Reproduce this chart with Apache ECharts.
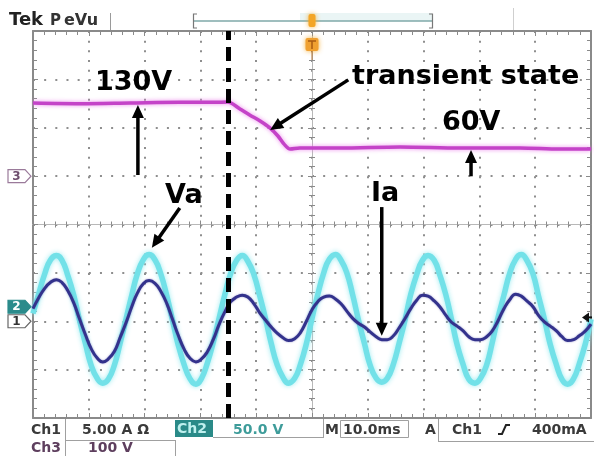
<!DOCTYPE html>
<html>
<head>
<meta charset="utf-8">
<script src="https://cdn.jsdelivr.net/npm/echarts@6/dist/echarts.min.js"></script>
<style>
  html, body { margin: 0; padding: 0; background: #fff; }
  #scope { width: 594px; height: 456px; }
</style>
</head>
<body>
<div id="scope"></div>
<script>
// ---- Acquisition: 10 ms/div, trigger at screen centre (0 ms) ----
const timeMin = -50;
const timeMax = 50;
const timeStep = 10;

// Ch3: DC-link voltage (V), steps from 130 V to 60 V
const ch3Time  = [-50.0, -41.6, -32.6, -23.7, -17.4, -15.1, -12.9, -11.1, -9.3, -7.5, -6.1, -5.0, -3.9, -2.2, 5.0, 15.8, 26.5, 37.3, 44.4, 50.0];
const ch3Volts = [130, 129, 130, 131, 131, 131.5, 120.7, 111, 102, 91, 78.7, 66, 58.4, 60, 60, 61.6, 60, 60, 58.4, 58.4];

// Sample instants shared by Ch1 and Ch2 (ms)
const sampleTime = [
  -50.0, -49.0, -47.9, -46.9, -45.8, -44.8, -43.8, -42.7, -41.7, -40.6, -39.6, -38.5, -37.5, -36.5, -35.4, -34.4,
  -33.3, -32.3, -31.3, -30.2, -29.2, -28.1, -27.1, -26.0, -25.0, -24.0, -22.9, -21.9, -20.8, -19.8, -18.8, -17.7,
  -16.7, -15.6, -14.6, -13.5, -12.5, -11.5, -10.4, -9.4, -8.3, -7.3, -6.3, -5.2, -4.2, -3.1, -2.1, -1.0,
  0.0, 1.0, 2.1, 3.1, 4.2, 5.2, 6.3, 7.3, 8.3, 9.4, 10.4, 11.5, 12.5, 13.5, 14.6, 15.6,
  16.7, 17.7, 18.8, 19.8, 20.8, 21.9, 22.9, 24.0, 25.0, 26.0, 27.1, 28.1, 29.2, 30.2, 31.3, 32.3,
  33.3, 34.4, 35.4, 36.5, 37.5, 38.5, 39.6, 40.6, 41.7, 42.7, 43.8, 44.8, 45.8, 46.9, 47.9, 49.0, 50.0
];

// Ch2: phase voltage Va (V)
const vaVolts = [
  -7, 13, 34, 48, 53, 48, 33, 12, -13, -38, -60, -74, -79, -75, -60, -38,
  -12, 12, 34, 49, 54, 48, 34, 11, -14, -39, -60, -74, -80, -74, -59, -37,
  -13, 13, 34, 48, 53, 47, 33, 12, -13, -38, -59, -73, -79, -74, -60, -38,
  -12, 12, 35, 49, 54, 48, 34, 12, -13, -38, -60, -74, -78, -74, -59, -38,
  -13, 13, 34, 48, 53, 48, 33, 12, -13, -39, -60, -75, -79, -74, -60, -37,
  -12, 12, 34, 49, 54, 48, 34, 11, -14, -39, -60, -75, -80, -74, -59, -38, -13
];

// Ch1: phase current Ia (A)
const iaAmps = [
  1.3, 2.4, 3.4, 4.0, 4.3, 4.0, 3.2, 1.9, 0.3, -1.4, -2.8, -3.8, -4.2, -3.9, -3.1, -1.7,
  -0.1, 1.5, 2.9, 3.9, 4.2, 3.9, 3.1, 1.8, 0.2, -1.4, -2.9, -3.8, -4.2, -3.9, -3.2, -1.9,
  -0.4, 1.0, 2.0, 2.5, 2.7, 2.5, 1.8, 0.9, 0.1, -0.6, -1.2, -1.7, -2.0, -1.8, -1.2, 0.0,
  1.2, 2.0, 2.5, 2.6, 2.3, 1.8, 1.0, 0.3, -0.2, -0.6, -1.1, -1.6, -1.9, -1.9, -1.5, -0.7,
  0.3, 1.3, 2.2, 2.7, 2.6, 2.1, 1.5, 0.6, -0.1, -0.5, -1.0, -1.6, -1.9, -1.9, -1.6, -1.0,
  0.0, 1.3, 2.2, 2.8, 2.6, 2.1, 1.5, 0.6, -0.1, -0.5, -1.0, -1.6, -2.0, -1.9, -1.5, -1.0, -0.3
];

// Instant at which the DC-link starts to change
const transientMs = -15;
// Trigger level on Ch1 (A)
const triggerLevelA = 0.4;

// Vertical ranges of each channel over the 8 screen divisions
const ch1Range = [-10, 30];     // 5 A/div
const ch2Range = [-115, 285];   // 50 V/div
const ch3Range = [-360, 242];

const zip = (xs, ys) => xs.map((x, i) => [x, ys[i]]);

const frameColor = '#8a8a8a';
const dotColor = '#8e8e8e';
const FONT = '"DejaVu Sans", "Liberation Sans", sans-serif';

function frameAxis(dim, position, withGrid) {
  const isX = dim === 'x';
  return {
    type: 'value',
    min: isX ? timeMin : -4,
    max: isX ? timeMax : 4,
    interval: isX ? timeStep : 1,
    position: position,
    axisLine: { show: true, onZero: false, lineStyle: { color: frameColor, width: 2 } },
    axisTick: { show: true, inside: true, length: 5, lineStyle: { color: frameColor, width: 1 } },
    minorTick: { show: true, splitNumber: 5, length: 4, lineStyle: { color: frameColor, width: 1 } },
    axisLabel: { show: false },
    splitLine: {
      show: withGrid,
      lineStyle: { color: dotColor, width: 2, type: isX ? [2, 7.675] : [2, 9.16] }
    }
  };
}

function centreAxis(dim, position) {
  const isX = dim === 'x';
  return {
    type: 'value',
    min: isX ? timeMin : -4,
    max: isX ? timeMax : 4,
    interval: isX ? timeStep : 1,
    position: position,
    axisLine: { show: true, onZero: true, onZeroAxisIndex: 0, lineStyle: { color: '#b8b8b8', width: 1 } },
    axisTick: { show: true, inside: true, length: 4, lineStyle: { color: '#8a8a8a', width: 1 } },
    minorTick: { show: true, splitNumber: 5, length: 3, lineStyle: { color: '#8a8a8a', width: 1 } },
    axisLabel: { show: false },
    splitLine: { show: false }
  };
}

function channelAxis(range) {
  return { type: 'value', min: range[0], max: range[1], show: false, axisLine: { onZero: false }, splitLine: { show: false } };
}

const chart = echarts.init(document.getElementById('scope'), null, { renderer: 'canvas' });

chart.setOption({
  animation: false,
  backgroundColor: '#ffffff',
  grid: { left: 33, top: 31, width: 558, height: 387, containLabel: false },
  xAxis: [
    frameAxis('x', 'bottom', true),
    frameAxis('x', 'top', false),
    centreAxis('x', 'bottom'),
    centreAxis('x', 'top')
  ],
  yAxis: [
    frameAxis('y', 'left', true),
    frameAxis('y', 'right', false),
    centreAxis('y', 'left'),
    centreAxis('y', 'right'),
    channelAxis(ch1Range),
    channelAxis(ch2Range),
    channelAxis(ch3Range)
  ],
  series: [
    {
      name: 'Ch3', type: 'line', xAxisIndex: 0, yAxisIndex: 6, z: 2,
      data: zip(ch3Time, ch3Volts), showSymbol: false, smooth: 0.3, silent: true,
      lineStyle: { color: '#c443c8', width: 3.5, shadowColor: 'rgba(235,130,235,0.9)', shadowBlur: 4 }
    },
    {
      name: 'Va', type: 'line', xAxisIndex: 0, yAxisIndex: 5, z: 3,
      data: zip(sampleTime, vaVolts), showSymbol: false, smooth: 0.5, silent: true,
      lineStyle: { color: '#72e1e8', width: 5.5, shadowColor: 'rgba(150,235,240,0.95)', shadowBlur: 5 }
    },
    {
      name: 'Ia', type: 'line', xAxisIndex: 0, yAxisIndex: 4, z: 4,
      data: zip(sampleTime, iaAmps), showSymbol: false, smooth: 0.5, silent: true,
      lineStyle: { color: '#33328c', width: 3, shadowColor: 'rgba(80,80,170,0.6)', shadowBlur: 2 },
      markLine: {
        silent: true, symbol: ['none', 'none'], z: 6,
        label: { show: false },
        lineStyle: { color: '#000000', width: 5, type: [14, 7] },
        data: [{ xAxis: transientMs }]
      }
    }
  ]
});

// ---- Overlay: channel markers, annotations, readouts ----
const toPx = (seriesIndex, pt) => chart.convertToPixel({ seriesIndex: seriesIndex }, pt);
const divToY = (d) => chart.convertToPixel({ yAxisIndex: 0 }, d);

function arrow(p0, p1, width, headLen, headHalf) {
  const dx = p1[0] - p0[0], dy = p1[1] - p0[1];
  const len = Math.hypot(dx, dy);
  const ux = dx / len, uy = dy / len;
  const bx = p1[0] - ux * headLen, by = p1[1] - uy * headLen;
  return [
    { type: 'line', z: 100, silent: true,
      shape: { x1: p0[0], y1: p0[1], x2: bx + ux * 2, y2: by + uy * 2 },
      style: { stroke: '#000', lineWidth: width } },
    { type: 'polygon', z: 100, silent: true,
      shape: { points: [p1, [bx - uy * headHalf, by + ux * headHalf], [bx + uy * headHalf, by - ux * headHalf]] },
      style: { fill: '#000' } }
  ];
}

function label(text, x, y, font, fill, align) {
  return { type: 'text', z: 100, silent: true,
    style: { text: text, x: x, y: y, font: font, fill: fill,
             align: align || 'left', verticalAlign: 'middle',
             textAlign: align || 'left', textVerticalAlign: 'middle' } };
}

function marker(y, txt, fill, stroke, textFill) {
  const x0 = 8, x1 = 25, h = 6.5;
  return [
    { type: 'polygon', z: 90, silent: true,
      shape: { points: [[x0, y - h], [x1, y - h], [x1 + 6, y], [x1, y + h], [x0, y + h]] },
      style: { fill: fill, stroke: stroke, lineWidth: 1.2 } },
    label(txt, 16.5, y + 0.5, 'bold 12px ' + FONT, textFill, 'center')
  ];
}

// Annotation arrows, anchored in each channel's own units
const arrowSpecs = [
  { s: 0, from: [-31.2, 18],   to: [-31.2, 127] },   // 130V
  { s: 0, from: [6.5, 166],    to: [-7.5, 88] },     // transient state
  { s: 0, from: [28.5, 16],    to: [28.5, 57] },     // 60V
  { s: 1, from: [-23.7, 102],  to: [-28.7, 61] },    // Va
  { s: 2, from: [12.5, 11.8],  to: [12.5, -1.5] }    // Ia
];

const g = [];
arrowSpecs.forEach(a => g.push(...arrow(toPx(a.s, a.from), toPx(a.s, a.to), 3.5, 13, 6)));

const big = 'bold 27px ' + FONT;
g.push(label('130V', 95, 83, big, '#000'));
g.push(label('transient state', 352, 77, big, '#000'));
g.push(label('60V', 442, 123, big, '#000'));
g.push(label('Va', 165, 196, big, '#000'));
g.push(label('Ia', 371, 194, big, '#000'));

// Channel ground markers and trigger-level pointer
g.push(...marker(divToY(1), '3', '#ffffff', '#9a7a9a', '#6e4e6e'));
g.push(...marker(toPx(1, [0, 0])[1], '2', '#2b8b8b', '#2b8b8b', '#ffffff'));
g.push(...marker(toPx(2, [0, 0])[1], '1', '#ffffff', '#666666', '#333333'));
const trig = toPx(2, [timeMax, triggerLevelA]);
g.push({ type: 'polygon', z: 90, silent: true,
  shape: { points: [[trig[0] - 9, trig[1]], [trig[0] - 2, trig[1] - 5], [trig[0] - 2, trig[1] + 5]] },
  style: { fill: '#111' } });
g.push({ type: 'line', z: 90, silent: true,
  shape: { x1: trig[0] - 4, y1: trig[1], x2: trig[0] + 1, y2: trig[1] },
  style: { stroke: '#111', lineWidth: 2 } });

// Header: brand, record bar, trigger position
const hdr = 'bold 18px ' + FONT;
g.push(label('Tek', 9, 20, hdr, '#222'));
g.push(label('P', 50, 21, 'bold 15px ' + FONT, '#333'));
g.push(label('eVu', 64, 21, 'bold 16px ' + FONT, '#333'));
g.push({ type: 'line', z: 90, silent: true, shape: { x1: 110.5, y1: 13, x2: 110.5, y2: 30 }, style: { stroke: '#9a9a9a', lineWidth: 1 } });
g.push({ type: 'rect', z: 89, silent: true, shape: { x: 300, y: 13, width: 132, height: 8 }, style: { fill: '#eaf5f5' } });
g.push({ type: 'line', z: 90, silent: true, shape: { x1: 194, y1: 21, x2: 432, y2: 21 }, style: { stroke: '#7fa9a9', lineWidth: 1.5 } });
g.push({ type: 'polyline', z: 90, silent: true, shape: { points: [[197, 14], [193.5, 14], [193.5, 28], [197, 28]] }, style: { stroke: '#777', lineWidth: 1.2, fill: null } });
g.push({ type: 'polyline', z: 90, silent: true, shape: { points: [[429, 14], [432.5, 14], [432.5, 28], [429, 28]] }, style: { stroke: '#777', lineWidth: 1.2, fill: null } });
g.push({ type: 'line', z: 90, silent: true, shape: { x1: 513.5, y1: 8, x2: 513.5, y2: 30 }, style: { stroke: '#cfcfcf', lineWidth: 1 } });
const trigX = chart.convertToPixel({ xAxisIndex: 0 }, 0);
g.push({ type: 'rect', z: 95, silent: true, shape: { x: trigX - 3.5, y: 14, width: 7, height: 13, r: 2 },
  style: { fill: '#f3a526', shadowColor: 'rgba(245,170,40,0.9)', shadowBlur: 5 } });
g.push({ type: 'rect', z: 95, silent: true, shape: { x: trigX - 6.5, y: 38, width: 13, height: 13, r: 2 },
  style: { fill: '#f0a030', shadowColor: 'rgba(245,170,40,0.9)', shadowBlur: 5 } });
g.push({ type: 'polyline', z: 96, silent: true, shape: { points: [[trigX - 4, 41], [trigX + 4, 41]] }, style: { stroke: '#a85a10', lineWidth: 1.5 } });
g.push({ type: 'line', z: 96, silent: true, shape: { x1: trigX, y1: 41, x2: trigX, y2: 49 }, style: { stroke: '#a85a10', lineWidth: 1.5 } });
g.push({ type: 'line', z: 95, silent: true, shape: { x1: trigX, y1: 51, x2: trigX, y2: 60 }, style: { stroke: '#b07030', lineWidth: 1 } });

// Readout bar
const ro = 'bold 14px ' + FONT;
const boxLine = (x1, y1, x2, y2) => ({ type: 'line', z: 90, silent: true, shape: { x1, y1, x2, y2 }, style: { stroke: '#a0a0a0', lineWidth: 1 } });
g.push(boxLine(65.5, 419, 65.5, 456));
g.push(boxLine(65, 440.5, 175, 440.5));
g.push(boxLine(175.5, 440, 175.5, 456));
g.push(boxLine(213, 437.5, 323, 437.5));
g.push(boxLine(323.5, 419, 323.5, 438));
g.push({ type: 'rect', z: 90, silent: true, shape: { x: 340.5, y: 420.5, width: 68, height: 17 }, style: { fill: null, stroke: '#a0a0a0', lineWidth: 1 } });
g.push(boxLine(438.5, 419, 438.5, 442));
g.push(boxLine(438, 441.5, 594, 441.5));
g.push({ type: 'rect', z: 90, silent: true, shape: { x: 175, y: 420, width: 38, height: 17 }, style: { fill: '#2a8a88' } });
g.push(label('Ch1', 31, 430, ro, '#3a3a3a'));
g.push(label('5.00 A \u03A9', 82, 430, ro, '#3a3a3a'));
g.push(label('Ch2', 177, 429, ro, '#bff0ee'));
g.push(label('50.0 V', 233, 430, ro, '#3e9c9a'));
g.push(label('M', 325, 430, ro, '#3a3a3a'));
g.push(label('10.0ms', 343, 430, ro, '#3a3a3a'));
g.push(label('A', 425, 430, ro, '#3a3a3a'));
g.push(label('Ch1', 452, 430, ro, '#3a3a3a'));
g.push({ type: 'polyline', z: 90, silent: true, shape: { points: [[498, 434], [502, 434], [506, 425], [510, 425]] }, style: { stroke: '#222', lineWidth: 2, fill: null } });
g.push(label('400mA', 532, 430, ro, '#3a3a3a'));
g.push(label('Ch3', 31, 448, ro, '#5e3f5e'));
g.push(label('100 V', 88, 448, ro, '#5e3f5e'));

chart.setOption({ graphic: { elements: g } });
</script>
</body>
</html>
